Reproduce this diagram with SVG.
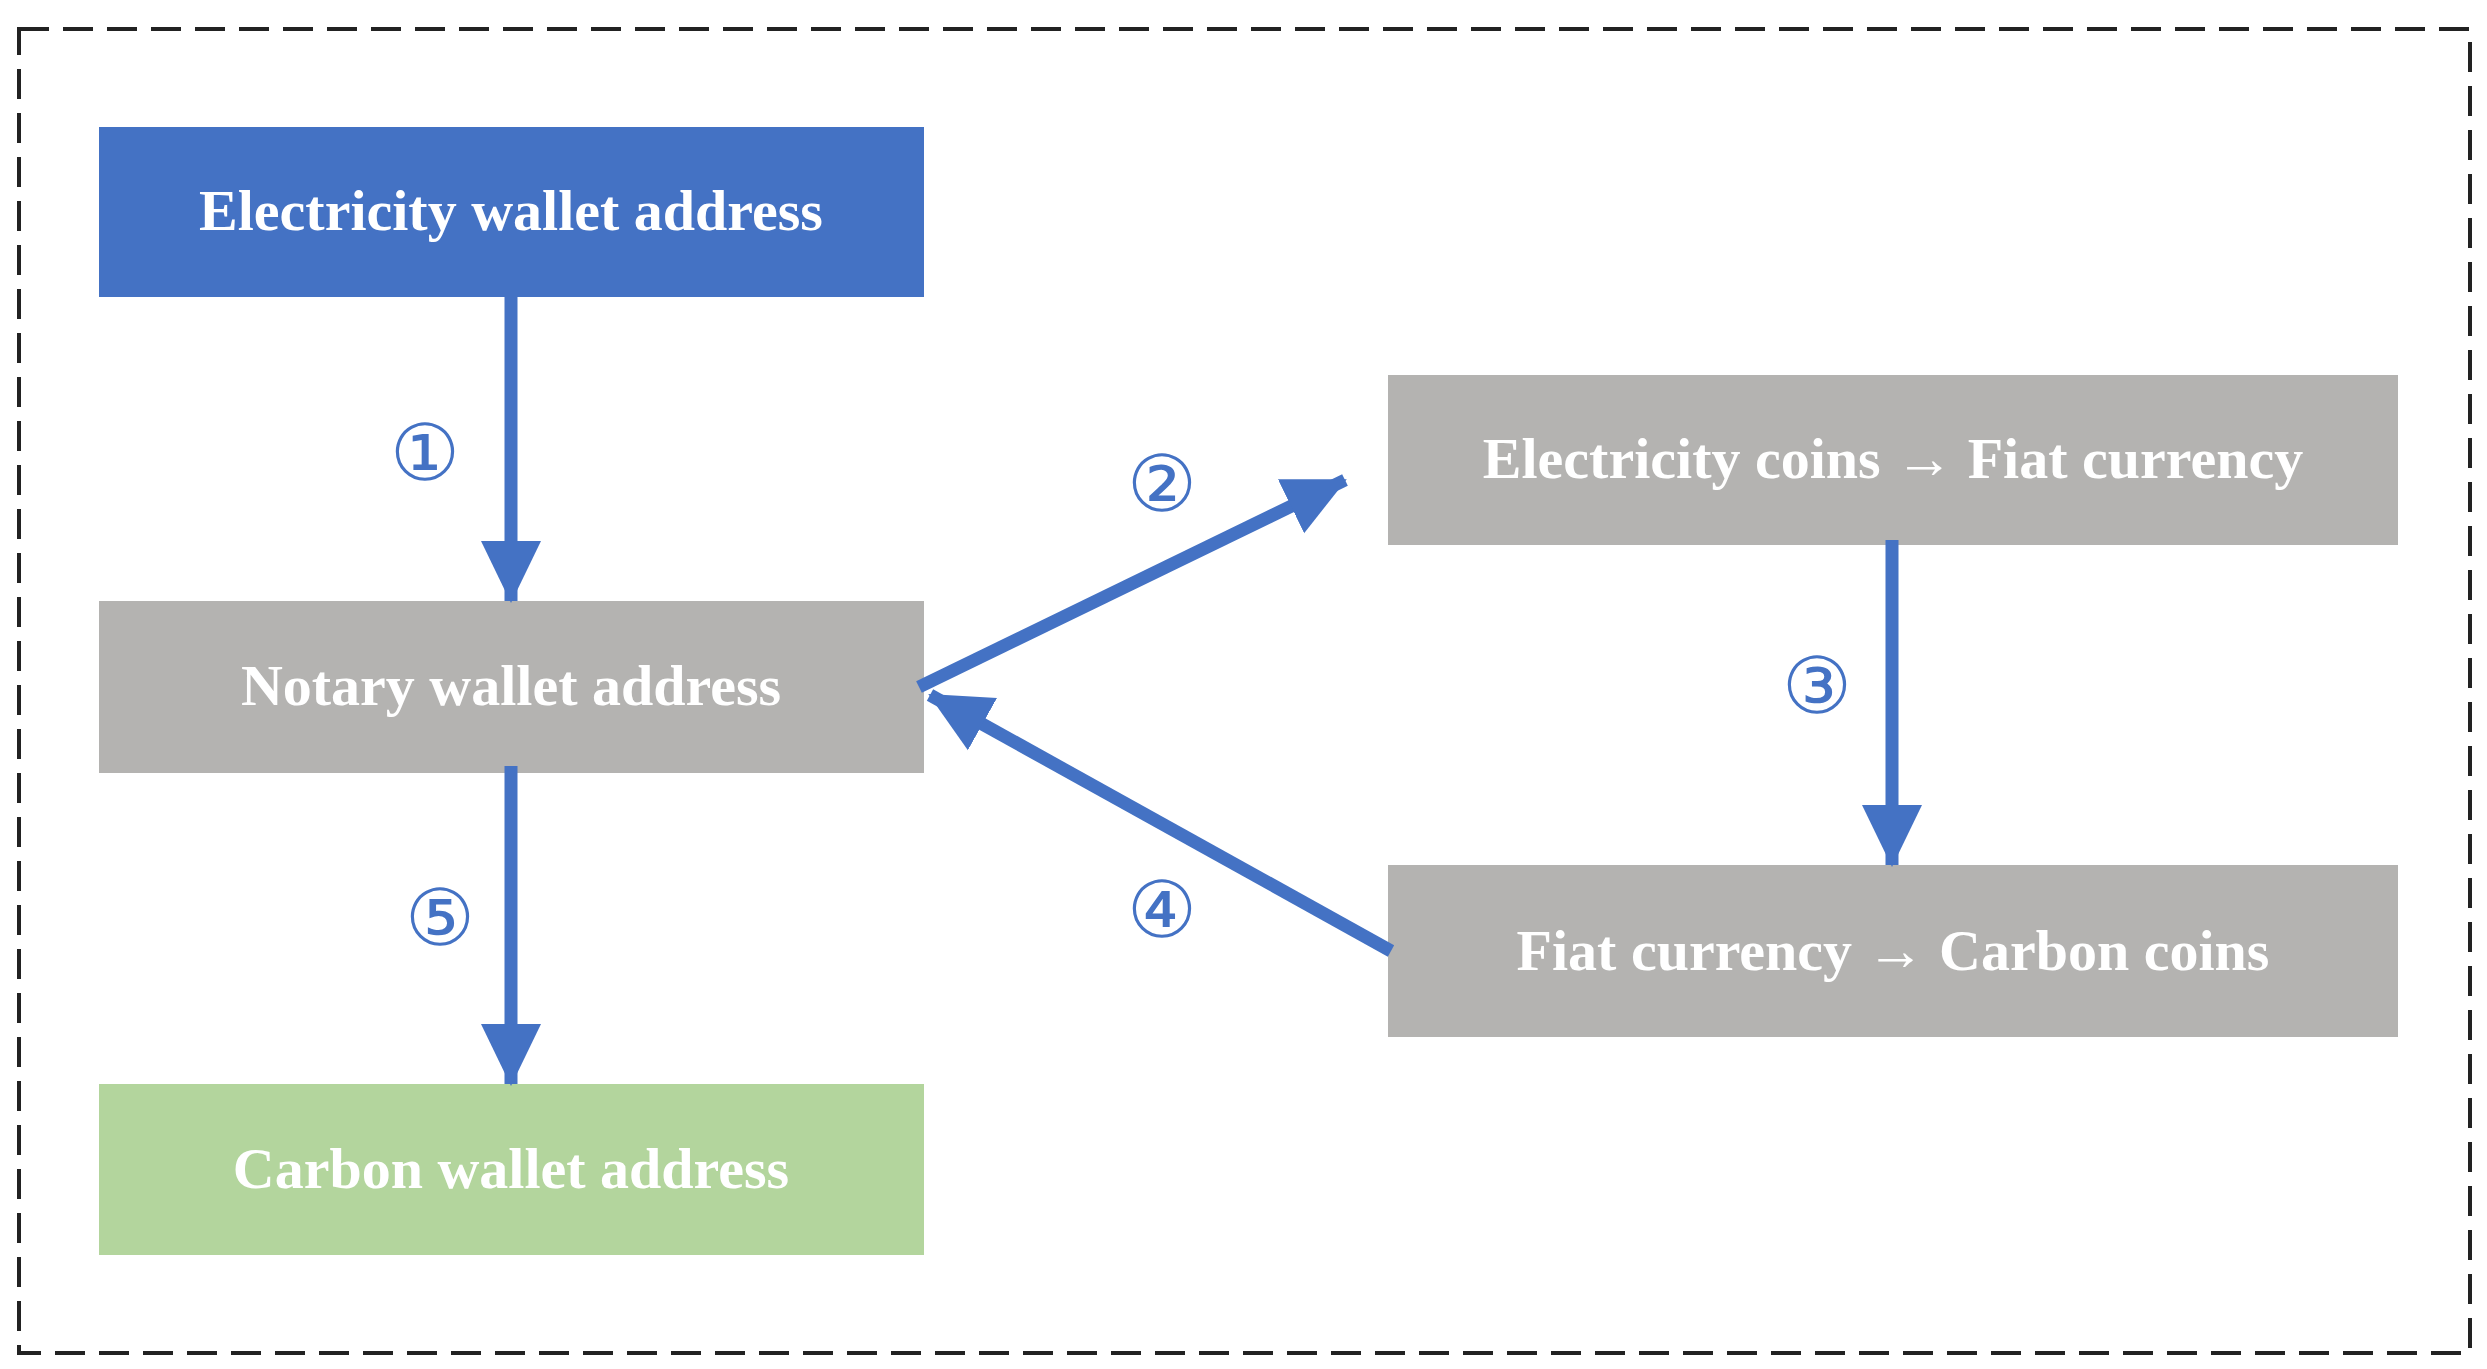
<svg xmlns="http://www.w3.org/2000/svg" width="2487" height="1369" viewBox="0 0 2487 1369">
<style>
.t{font-family:"Liberation Serif",serif;font-weight:bold;font-size:58px;fill:#fff;text-anchor:middle}
.n{font-family:"DejaVu Sans",sans-serif;font-size:78px;fill:#4472C4;text-anchor:middle}
.c{stroke:#4472C4;stroke-width:13;fill:none;marker-end:url(#a)}
</style>
<defs><marker id="a" markerUnits="userSpaceOnUse" markerWidth="64" markerHeight="64" refX="60" refY="32" orient="auto"><path d="M0,2 L62,32 L0,62 Z" fill="#4472C4"/></marker></defs>
<rect width="2487" height="1369" fill="#fff"/>
<rect x="19" y="29" width="2451" height="1324" fill="none" stroke="#222" stroke-width="4" stroke-dasharray="30,14"/>
<g id="n1"><rect x="99" y="127" width="825" height="170" fill="#4472C4"/><text class="t" x="511" y="230">Electricity wallet address</text></g>
<g id="n2"><rect x="99" y="601" width="825" height="172" fill="#B4B3B1"/><text class="t" x="511" y="705">Notary wallet address</text></g>
<g id="n3"><rect x="99" y="1084" width="825" height="171" fill="#B3D59D"/><text class="t" x="511" y="1188">Carbon wallet address</text></g>
<g id="n4"><rect x="1388" y="375" width="1010" height="170" fill="#B4B3B1"/><text class="t" x="1893" y="478">Electricity coins → Fiat currency</text></g>
<g id="n5"><rect x="1388" y="865" width="1010" height="172" fill="#B4B3B1"/><text class="t" x="1893" y="970">Fiat currency → Carbon coins</text></g>
<g id="connectors">
<path class="c" d="M511,297 V601"/>
<path class="c" d="M919,687 L1345,480"/>
<path class="c" d="M1892,540 V865"/>
<path class="c" d="M1391,951 L930,695"/>
<path class="c" d="M511,766 V1084"/>
</g>
<g id="labels">
<text class="n" x="425" y="480">①</text>
<text class="n" x="1162" y="511">②</text>
<text class="n" x="1817" y="713">③</text>
<text class="n" x="1162" y="937">④</text>
<text class="n" x="440" y="945">⑤</text>
</g>
</svg>
